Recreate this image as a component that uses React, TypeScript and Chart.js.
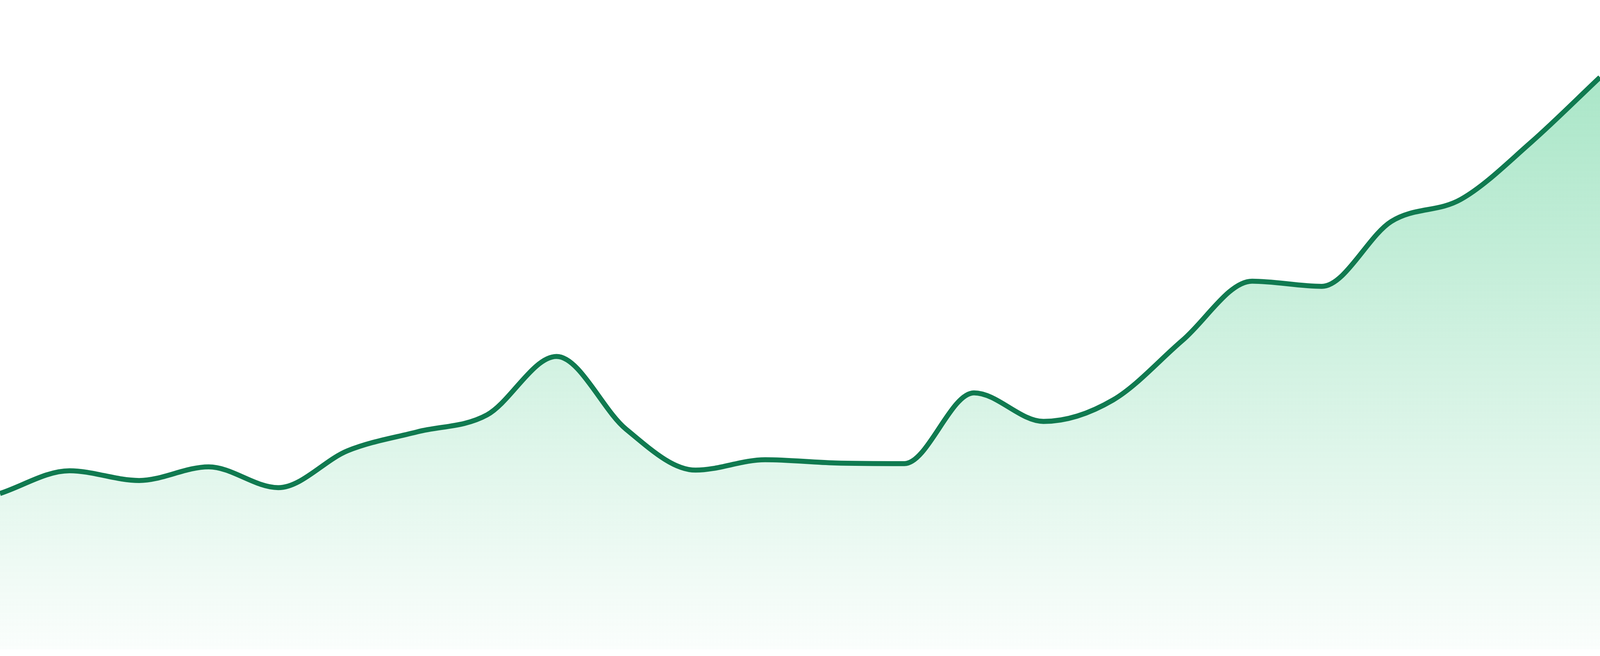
import { useEffect, useRef } from "react";
import { Chart, registerables } from "chart.js";

Chart.register(...registerables);

// 24 evenly spaced samples, no visible axis labels in the picture
const labels = [
  "1", "2", "3", "4", "5", "6", "7", "8", "9", "10", "11", "12",
  "13", "14", "15", "16", "17", "18", "19", "20", "21", "22", "23", "24",
];

const values = [
  24.0, 27.5, 26.0, 28.1, 24.9, 30.6, 33.5, 36.1, 45.1, 33.9, 27.6, 29.2,
  28.7, 28.6, 39.5, 35.1, 38.4, 47.6, 56.7, 55.9, 65.9, 69.3, 78.0, 88.1,
];

const yMin = 0;
const yMax = 100;

export default function App() {
  const chartRef = useRef<HTMLCanvasElement>(null);
  const chartInstance = useRef<Chart | null>(null);

  useEffect(() => {
    if (!chartRef.current) return;
    if (chartInstance.current) {
      chartInstance.current.destroy();
    }
    const ctx = chartRef.current.getContext("2d");
    if (!ctx) return;

    // sizes below are measured in picture pixels (4800 wide), scale to css px
    const k = window.innerWidth / 4800;

    chartInstance.current = new Chart(ctx, {
      type: "line",
      data: {
        labels: labels,
        datasets: [{
          data: values,
          borderColor: "rgb(16, 122, 80)",
          borderWidth: 15 * k,
          pointRadius: 0,
          cubicInterpolationMode: "monotone",
          fill: "origin",
          backgroundColor: (context) => {
            const { ctx: c, chartArea } = context.chart;
            if (!chartArea) return "rgba(16, 185, 100, 0.2)";
            const g = c.createLinearGradient(0, chartArea.top, 0, chartArea.bottom);
            g.addColorStop(0, "rgba(16, 185, 100, 0.4)");
            g.addColorStop(1, "rgba(16, 185, 100, 0.02)");
            return g;
          },
        }],
      },
      options: {
        animation: false,
        responsive: true,
        maintainAspectRatio: false,
        layout: {
          padding: { top: 0, left: 0, right: 0, bottom: 20 * k },
        },
        plugins: {
          legend: { display: false },
          tooltip: { enabled: false },
        },
        scales: {
          x: { display: false },
          y: { display: false, min: yMin, max: yMax },
        },
      },
    });

    return () => {
      if (chartInstance.current) {
        chartInstance.current.destroy();
        chartInstance.current = null;
      }
    };
  }, []);

  return (
    <div style={{ position: "fixed", left: 0, top: 0, width: "100vw", height: "100vh", background: "#fff" }}>
      <canvas ref={chartRef} />
    </div>
  );
}
